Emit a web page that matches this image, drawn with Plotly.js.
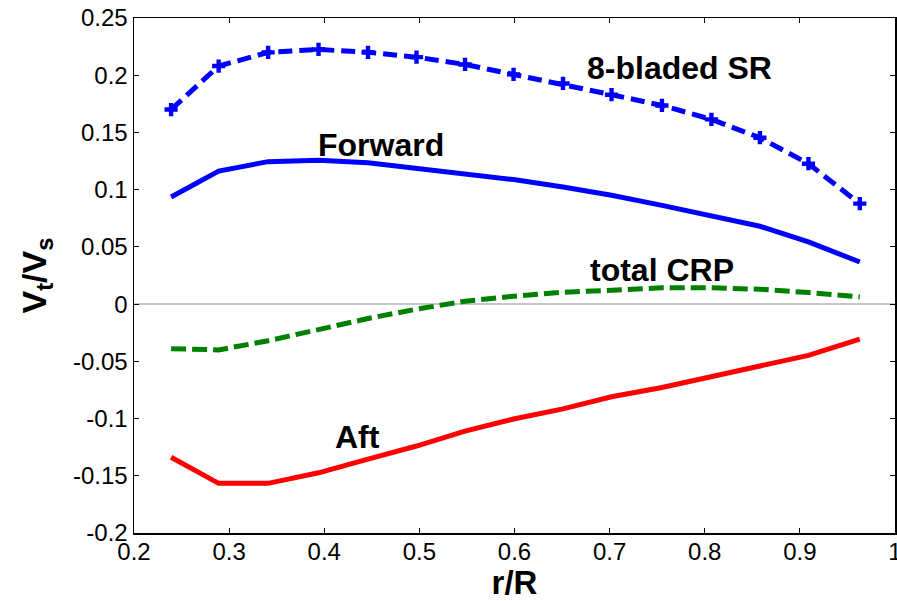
<!DOCTYPE html>
<html>
<head>
<meta charset="utf-8">
<script src="https://cdn.plot.ly/plotly-3.0.1.min.js"></script>
<style>html,body{margin:0;padding:0;background:#fff;}#chart{width:897px;height:601px;}</style>
</head>
<body>
<div id="chart"></div>
<script>
// r/R stations
const rR = [0.239, 0.289, 0.341, 0.394, 0.446, 0.497, 0.548, 0.599, 0.651, 0.702, 0.755, 0.807, 0.858, 0.909, 0.963];
// Vt/Vs series
const sr8 = [0.170, 0.208, 0.220, 0.2225, 0.220, 0.2158, 0.2094, 0.2007, 0.1928, 0.183, 0.1736, 0.1614, 0.1454, 0.1227, 0.0878];
const forward = [0.0936, 0.1163, 0.1245, 0.1256, 0.1236, 0.1185, 0.1134, 0.1088, 0.1023, 0.0951, 0.0863, 0.0776, 0.0680, 0.0543, 0.0368];
const totalCRP = [-0.039, -0.040, -0.032, -0.0217, -0.0126, -0.0044, 0.0025, 0.0069, 0.0104, 0.0121, 0.0142, 0.0142, 0.013, 0.0101, 0.0063];
const aft = [-0.1338, -0.1566, -0.1566, -0.1474, -0.1354, -0.124, -0.111, -0.1004, -0.0915, -0.081, -0.0728, -0.063, -0.0533, -0.0448, -0.0306];

const xTickVals = [0.2, 0.3, 0.4, 0.5, 0.6, 0.7, 0.8, 0.9, 1];
const xTickText = ['0.2', '0.3', '0.4', '0.5', '0.6', '0.7', '0.8', '0.9', '1'];
const yTickVals = [-0.2, -0.15, -0.1, -0.05, 0, 0.05, 0.1, 0.15, 0.2, 0.25];
const yTickText = ['-0.2', '-0.15', '-0.1', '-0.05', '0', '0.05', '0.1', '0.15', '0.2', '0.25'];

const labels = [
  {text: '8-bladed SR', x: 0.773, y: 0.2064},
  {text: 'Forward', x: 0.4597, y: 0.139},
  {text: 'total CRP', x: 0.755, y: 0.0296},
  {text: 'Aft', x: 0.435, y: -0.1162}
];

const FONT = 'Liberation Sans, Arial, sans-serif';

const traces = [
  {x: rR, y: sr8, mode: 'lines+markers', name: '8-bladed SR',
   line: {color: '#0000ff', width: 5, dash: '14px,7px'},
   marker: {symbol: 'cross', size: 11, color: '#0000ff'}},
  {x: rR, y: forward, mode: 'lines', name: 'Forward',
   line: {color: '#0000ff', width: 5}},
  {x: rR, y: totalCRP, mode: 'lines', name: 'total CRP',
   line: {color: '#008000', width: 5, dash: '15px,6px'}},
  {x: rR, y: aft, mode: 'lines', name: 'Aft',
   line: {color: '#ff0000', width: 5}}
];

const layout = {
  width: 897, height: 601,
  margin: {l: 134, r: 2, t: 18, b: 68, pad: 0},
  paper_bgcolor: '#ffffff', plot_bgcolor: '#ffffff',
  showlegend: false,
  font: {family: FONT, color: '#000000'},
  xaxis: {
    range: [0.2, 1], tickvals: xTickVals, ticktext: xTickText,
    showgrid: false, zeroline: false,
    showline: true, linecolor: '#000000', linewidth: 1.5, mirror: 'ticks',
    ticks: 'inside', ticklen: 5, tickcolor: '#000000', tickwidth: 1,
    ticklabeloverflow: 'allow', ticklabelstandoff: -3,
    tickfont: {family: FONT, size: 24, color: '#000000'},
    title: {text: 'r/R', font: {family: FONT, size: 33, color: '#000000', weight: 'bold'}, standoff: 8}
  },
  yaxis: {
    range: [-0.2, 0.25], tickvals: yTickVals, ticktext: yTickText,
    showgrid: false, zeroline: true, zerolinecolor: '#c8c8c8', zerolinewidth: 2.5,
    showline: true, linecolor: '#000000', linewidth: 1.5, mirror: 'ticks',
    ticks: 'inside', ticklen: 5, tickcolor: '#000000', tickwidth: 1,
    tickfont: {family: FONT, size: 24, color: '#000000'},
    title: {text: 'V<sub>t</sub>/V<sub>s</sub>', font: {family: FONT, size: 34, color: '#000000', weight: 'bold'}, standoff: 16}
  },
  annotations: labels.map(l => ({
    text: l.text, x: l.x, y: l.y, xref: 'x', yref: 'y',
    showarrow: false, xanchor: 'center', yanchor: 'middle',
    font: {family: FONT, size: 32, color: '#000000', weight: 'bold'}
  }))
};

Plotly.newPlot('chart', traces, layout, {displayModeBar: false, staticPlot: true});
</script>
</body>
</html>
